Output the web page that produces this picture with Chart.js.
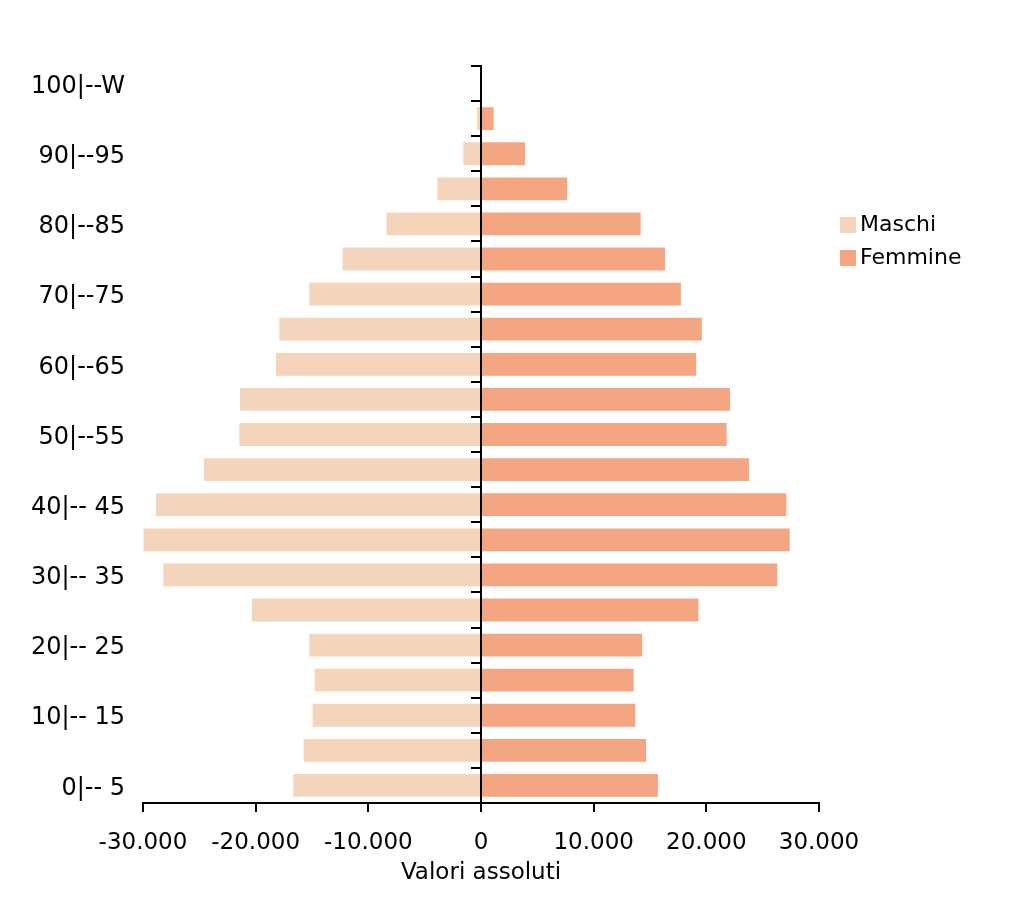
<!DOCTYPE html>
<html>
<head>
<meta charset="utf-8">
<script src="https://cdn.jsdelivr.net/npm/chart.js@4"></script>
<style>
  html, body { margin: 0; padding: 0; background: #ffffff; }
  #wrap { width: 1024px; height: 912px; position: relative; }
</style>
</head>
<body>
<div id="wrap"><canvas id="c" width="1024" height="912"></canvas></div>
<script>
// Age classes (bottom to top)
const categories = ["0|-- 5","5|-- 10","10|-- 15","15|-- 20","20|-- 25","25|-- 30","30|-- 35","35|-- 40","40|-- 45","45|--50","50|--55","55|--60","60|--65","65|--70","70|--75","75|--80","80|--85","85|--90","90|--95","95|--100","100|--W"];
// Absolute values (males shown on the left side)
const maschi = [16650, 15740, 14940, 14760, 15230, 20340, 28200, 29950, 28850, 24600, 21450, 21400, 18200, 17900, 15230, 12280, 8390, 3870, 1570, 350, 0];
const femmine = [15700, 14650, 13700, 13550, 14300, 19300, 26300, 27400, 27100, 23800, 21800, 22100, 19100, 19600, 17740, 16330, 14170, 7650, 3900, 1120, 0];
const seriesNames = ["Maschi", "Femmine"];
const xTicks = [-30000, -20000, -10000, 0, 10000, 20000, 30000];
const axisTitle = "Valori assoluti";

const colMaschi = "#F5D4BC";
const colFemmine = "#F4A582";
const FONT = "'DejaVu Sans', Verdana, sans-serif";

function fmt(v) {
  const s = Math.abs(v).toString().replace(/\B(?=(\d{3})+(?!\d))/g, ".");
  return (v < 0 ? "-" : "") + s;
}

// simple legend drawn to the right of the plot
const sideLegend = {
  id: "sideLegend",
  afterDraw(chart) {
    const ctx = chart.ctx;
    const items = [
      { text: seriesNames[0], color: colMaschi, y: 225 },
      { text: seriesNames[1], color: colFemmine, y: 258 }
    ];
    ctx.save();
    ctx.font = "22px " + FONT;
    ctx.textBaseline = "middle";
    ctx.textAlign = "left";
    items.forEach(it => {
      ctx.fillStyle = it.color;
      ctx.fillRect(840, it.y - 8, 16, 16);
      ctx.fillStyle = "#000";
      ctx.fillText(it.text, 860, it.y);
    });
    ctx.restore();
  }
};

new Chart(document.getElementById("c"), {
  type: "bar",
  data: {
    labels: categories,
    datasets: [
      { label: seriesNames[0], data: maschi.map(v => -v), backgroundColor: colMaschi, categoryPercentage: 1, barPercentage: 0.65 },
      { label: seriesNames[1], data: femmine, backgroundColor: colFemmine, categoryPercentage: 1, barPercentage: 0.65 }
    ]
  },
  options: {
    indexAxis: "y",
    responsive: false,
    animation: false,
    devicePixelRatio: 1,
    layout: { padding: { top: 66, right: 205, bottom: 0, left: 0 } },
    plugins: {
      legend: { display: false },
      tooltip: { enabled: false }
    },
    scales: {
      x: {
        type: "linear",
        stacked: true,
        min: -30000,
        max: 30000,
        afterBuildTicks: s => { s.ticks = xTicks.map(v => ({ value: v })); },
        afterFit: s => { s.height = 109; },
        grid: { drawOnChartArea: false, drawTicks: true, tickLength: 9, color: "#000", lineWidth: 2 },
        border: { display: true, color: "#000", width: 2 },
        ticks: { color: "#000", font: { family: FONT, size: 23 }, padding: 17, callback: v => fmt(v), maxRotation: 0 },
        title: { display: true, text: axisTitle, color: "#000", font: { family: FONT, size: 23 }, padding: { top: 0, bottom: 25 } }
      },
      y: {
        type: "category",
        stacked: true,
        reverse: true,
        offset: true,
        afterFit: s => { s.width = 143; },
        grid: { display: false, drawTicks: false, tickLength: 0, offset: true },
        border: { display: false },
        ticks: {
          color: "#000",
          font: { family: FONT, size: 24 },
          padding: 18,
          labelOffset: 3,
          autoSkip: false,
          callback: function (v, i) { return i % 2 === 0 ? this.getLabelForValue(v) : ""; }
        }
      },
      y2: {
        type: "category",
        position: { x: 0 },
        reverse: true,
        offset: true,
        grid: { drawOnChartArea: false, drawTicks: true, tickLength: 9, offset: true, color: "#000", lineWidth: 2 },
        border: { display: true, color: "#000", width: 2 },
        ticks: { display: false }
      }
    }
  },
  plugins: [sideLegend]
});
</script>
</body>
</html>
